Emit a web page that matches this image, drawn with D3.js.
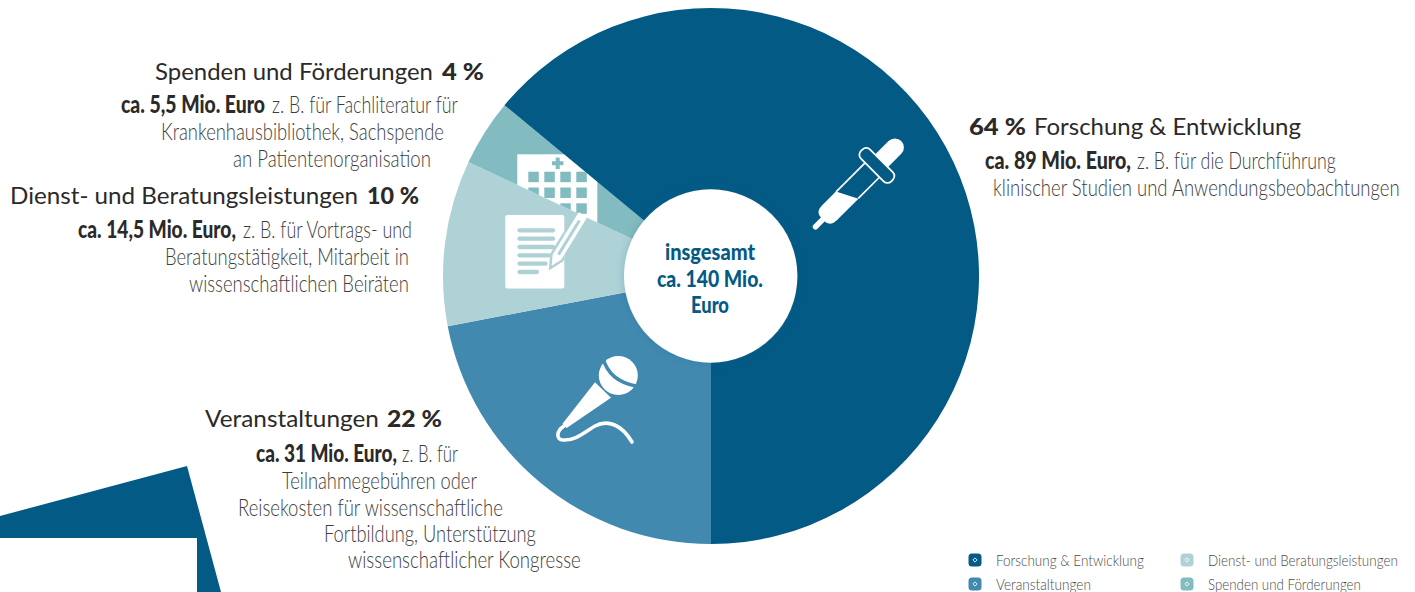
<!DOCTYPE html>
<meta charset="utf-8">
<style>
  body { margin: 0; background: #fff; }
  svg { display: block; }
  text { font-family: Lato, sans-serif; }
</style>
<script src="https://d3js.org/d3.v7.min.js"></script>
<div id="my_dataviz"></div>

<script>
// data
const categories = ['Veranstaltungen', 'Dienst- und Beratungsleistungen', 'Spenden und Förderungen', 'Forschung & Entwicklung'];
const shares = [22, 10, 4, 64];
const shareLabels = ['22 %', '10 %', '4 %', '64 %'];
const amounts = ['ca. 31 Mio. Euro,', 'ca. 14,5 Mio. Euro,', 'ca. 5,5 Mio. Euro', 'ca. 89 Mio. Euro,'];
const colors = ['#4289b0', '#aed2d6', '#82bcc0', '#035a85'];
const legendOrder = ['Forschung & Entwicklung', 'Veranstaltungen', 'Dienst- und Beratungsleistungen', 'Spenden und Förderungen'];
const centerLines = ['insgesamt', 'ca. 140 Mio.', 'Euro'];

const INK = '#2b2a29', LIGHT_INK = '#3d3d3d', DARK = colors[3];
const color = d3.scaleOrdinal().domain(categories).range(colors);

const svg = d3.select('#my_dataviz').append('svg').attr('width', 1415).attr('height', 592);
const defs = svg.append('defs');

// corner shape bottom left
svg.append('path')
  .attr('d', 'M0,516 L187,466 L221,592 L197,592 L197,538 L0,538 Z')
  .attr('fill', DARK);

// pie
const cx = 711, cy = 276, radius = 268, holeRadius = 86.7;
const pie = d3.pie().sort(null).startAngle(Math.PI).endAngle(3 * Math.PI);
const arc = d3.arc().innerRadius(0).outerRadius(radius);
const arcs = pie(shares);

const pieG = svg.append('g').attr('transform', `translate(${cx},${cy})`);
pieG.selectAll('path')
  .data(arcs)
  .enter().append('path')
  .attr('d', arc)
  .attr('fill', (d, i) => color(categories[i]));

// hospital icon sits inside the Spenden slice and gets cut by it
defs.append('clipPath').attr('id', 'spendenClip')
  .append('path')
  .attr('transform', `translate(${cx},${cy})`)
  .attr('d', arc(arcs[2]));

const hospital = svg.append('g').attr('clip-path', 'url(#spendenClip)');
hospital.append('rect').attr('x', 517.3).attr('y', 154.3).attr('width', 80).attr('height', 90).attr('fill', '#fff');
[528.3, 544.3, 560.3, 576.3].forEach(x => {
  [171.7, 187.5, 203.3].forEach(y => {
    hospital.append('rect').attr('x', x).attr('y', y).attr('width', 10.5).attr('height', 10.5).attr('fill', colors[2]);
  });
});
hospital.append('path')
  .attr('d', 'M557.7,157.5 V169 M552,163.3 H563.4')
  .attr('stroke', colors[2]).attr('stroke-width', 4).attr('fill', 'none');

// document + pencil icon
const doc = svg.append('g');
doc.append('rect').attr('x', 505.3).attr('y', 215).attr('width', 59).attr('height', 73.5).attr('rx', 2).attr('fill', '#fff');
[[230.3, 555], [238.7, 555], [247, 555], [255.3, 551], [263.7, 547.5], [272, 539]].forEach(l => {
  doc.append('line').attr('x1', 519.5).attr('x2', l[1] - 2).attr('y1', l[0]).attr('y2', l[0])
    .attr('stroke', colors[1]).attr('stroke-width', 4.3).attr('stroke-linecap', 'round');
});
defs.append('clipPath').attr('id', 'docClip')
  .append('rect').attr('x', 505.3).attr('y', 215).attr('width', 59).attr('height', 73.5);
const pencilShape = 'M0,0 L10,-5 L58,-5 Q60,-5 60,-3 L60,3 Q60,5 58,5 L10,5 Z';
const pencilAt = 'translate(551.7,265.7) rotate(-58.5)';
doc.append('g').attr('clip-path', 'url(#docClip)')
  .append('path').attr('d', pencilShape).attr('transform', pencilAt)
  .attr('fill', colors[1]).attr('stroke', colors[1]).attr('stroke-width', 5);
const pencil = doc.append('g').attr('transform', pencilAt);
pencil.append('path').attr('d', pencilShape).attr('fill', '#fff');
pencil.append('line').attr('x1', 13).attr('x2', 53).attr('y1', 0).attr('y2', 0)
  .attr('stroke', colors[1]).attr('stroke-width', 3);

// microphone icon
const mic = svg.append('g');
mic.append('circle').attr('cx', 618.3).attr('cy', 375.5).attr('r', 19.5).attr('fill', '#fff');
mic.append('path').attr('d', 'M603,358 Q609,381 636,386')
  .attr('fill', 'none').attr('stroke', colors[0]).attr('stroke-width', 3.5);
mic.append('path').attr('d', 'M595,382.3 L611,397.7 L566.7,428 L562.3,424 Z').attr('fill', '#fff');
mic.append('path')
  .attr('d', 'M564,426 C556,431 556,440 563,440 C575,441 585,432 595,426 C608,419 622,425 632,442')
  .attr('fill', 'none').attr('stroke', '#fff').attr('stroke-width', 3.6).attr('stroke-linecap', 'round');

// pipette icon
const dropper = svg.append('g').attr('transform', 'translate(815,227.3) rotate(-45)');
dropper.append('line').attr('x1', 0.7).attr('x2', 14).attr('y1', 0).attr('y2', 0)
  .attr('stroke', '#fff').attr('stroke-width', 5.5).attr('stroke-linecap', 'round');
dropper.append('path').attr('d', 'M40,-10.5 L20,-10.5 Q11,-10.5 11,-2 L11,2 Q11,10.5 20,10.5 L51,10.5 Z').attr('fill', '#fff');
dropper.append('path').attr('d', 'M40,-10.2 L81,-10.2 M51,10.2 L81,10.2')
  .attr('stroke', '#fff').attr('stroke-width', 1.7).attr('fill', 'none');
dropper.append('rect').attr('x', 81).attr('y', -21.5).attr('width', 13).attr('height', 43).attr('rx', 5.5)
  .attr('fill', 'none').attr('stroke', '#fff').attr('stroke-width', 1.8);
dropper.append('path').attr('d', 'M94,-9 L113,-9 A9,9 0 0 1 113,9 L94,9 Z').attr('fill', '#fff');

// hole
const shadow = defs.append('filter').attr('id', 'holeShadow')
  .attr('x', '-20%').attr('y', '-20%').attr('width', '140%').attr('height', '140%');
shadow.append('feDropShadow').attr('dx', 0).attr('dy', 0).attr('stdDeviation', 4)
  .attr('flood-color', '#035a85').attr('flood-opacity', 0.25);
svg.append('circle').attr('cx', 710.7).attr('cy', cy).attr('r', holeRadius)
  .attr('fill', '#fff').attr('filter', 'url(#holeShadow)');

// text, every run is squeezed to fit between its left and right edge
function run(str, x0, x1, y, size, weight, fill) {
  const t = svg.append('text')
    .attr('font-size', size).attr('font-weight', weight).attr('fill', fill)
    .text(str);
  const k = (x1 - x0) / t.node().getComputedTextLength();
  t.attr('transform', `translate(${x0},${y}) scale(${k},1)`);
}
const heading = (s, x0, x1, y) => run(s, x0, x1, y, 23, 400, INK);
const pct = (s, x0, x1, y) => run(s, x0, x1, y, 23, 900, INK);
const strong = (s, x0, x1, y) => run(s, x0, x1, y, 24, 900, INK);
const body = (s, x0, x1, y) => run(s, x0, x1, y, 23, 300, LIGHT_INK);

// Spenden
heading(categories[2], 155, 433, 80);
pct(shareLabels[2], 442, 484, 80);
strong(amounts[2], 121, 265, 113);
body('z. B. für Fachliteratur für', 272, 458, 113);
body('Krankenhausbibliothek, Sachspende', 161, 444, 140);
body('an Patientenorganisation', 233, 431, 167);

// Dienst
heading(categories[1], 10, 358, 204);
pct(shareLabels[1], 367, 419, 204);
strong(amounts[1], 78, 236, 238);
body('z. B. für Vortrags- und', 243, 412, 238);
body('Beratungstätigkeit, Mitarbeit in', 165, 409, 265);
body('wissenschaftlichen Beiräten', 189, 409, 292);

// Veranstaltungen
heading(categories[0], 205, 379, 427);
pct(shareLabels[0], 387, 442, 427);
strong(amounts[0], 256, 397, 462);
body('z. B. für', 402, 458, 462);
body('Teilnahmegebühren oder', 282, 477, 489);
body('Reisekosten für wissenschaftliche', 238, 503, 516);
body('Fortbildung, Unterstützung', 324, 536, 542);
body('wissenschaftlicher Kongresse', 348, 581, 568);

// Forschung
pct(shareLabels[3], 969, 1026, 135);
heading(categories[3], 1034, 1301, 135);
strong(amounts[3], 985, 1131, 169);
body('z. B. für die Durchführung', 1137, 1336, 169);
body('klinischer Studien und Anwendungsbeobachtungen', 993, 1400, 196);

// center label
run(centerLines[0], 665, 755, 260, 22, 900, DARK);
run(centerLines[1], 657, 763, 287, 22, 900, DARK);
run(centerLines[2], 691, 729, 313, 22, 900, DARK);

// legend
const legendX = [975, 975, 1187, 1187], legendY = [560, 584, 560, 584];
const legendEnd = [1144, 1091, 1398, 1361];
legendOrder.forEach((name, i) => {
  const g = svg.append('g').attr('transform', `translate(${legendX[i]},${legendY[i]})`);
  g.append('rect').attr('x', -6.5).attr('y', -6.5).attr('width', 13).attr('height', 13).attr('rx', 3.5).attr('fill', color(name));
  g.append('rect').attr('x', -1.5).attr('y', -1.5).attr('width', 3).attr('height', 3)
    .attr('transform', 'rotate(45)').attr('fill', 'none').attr('stroke', '#fff').attr('stroke-width', 0.8);
  run(name, legendX[i] + 21, legendEnd[i], legendY[i] + 6, 16, 300, '#4a4a4a');
});
</script>
